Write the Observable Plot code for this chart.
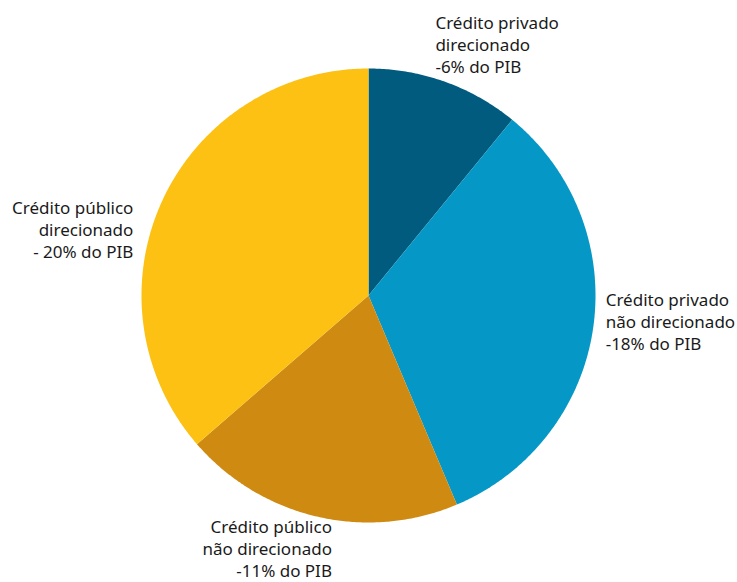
<!DOCTYPE html>
<html>
<head>
<meta charset="utf-8">
<script src="https://cdn.jsdelivr.net/npm/d3@7"></script>
<script src="https://cdn.jsdelivr.net/npm/@observablehq/plot@0.6"></script>
<style>
  html, body { margin: 0; padding: 0; background: #fff; }
  #chart svg { display: block; }
</style>
</head>
<body>
<div id="chart"></div>
<script>
const categories = [
  "Crédito privado direcionado",
  "Crédito privado não direcionado",
  "Crédito público não direcionado",
  "Crédito público direcionado"
];
const values = [6, 18, 11, 20];
const labels = [
  "Crédito privado\ndirecionado\n-6% do PIB",
  "Crédito privado\nnão direcionado\n-18% do PIB",
  "Crédito público\nnão direcionado\n-11% do PIB",
  "Crédito público\ndirecionado\n- 20% do PIB"
];
const colors = ["#015b7f", "#0597c5", "#cf8a12", "#fcc112"];

const arcs = d3.pie().sort(null).value(d => d)(values);

// polygon outline of each slice in unit coordinates (angle clockwise from 12 o'clock)
const pts = [];
arcs.forEach((a, i) => {
  const cat = categories[i];
  pts.push({cat, x: 0, y: 0});
  const n = Math.max(2, Math.ceil((a.endAngle - a.startAngle) / (Math.PI / 360)));
  for (let k = 0; k <= n; k++) {
    const t = a.startAngle + (a.endAngle - a.startAngle) * k / n;
    pts.push({cat, x: Math.sin(t), y: Math.cos(t)});
  }
});

const mid = a => (a.startAngle + a.endAngle) / 2;
const labelStyle = [
  {textAnchor: "start", dx: -17, dy: -16},
  {textAnchor: "start", dx: -10, dy: -10},
  {textAnchor: "end", dx: 20, dy: 9},
  {textAnchor: "end", dx: -8, dy: 37}
];

const textMarks = arcs.map((a, i) => Plot.text([a], {
  x: d => 1.1 * Math.sin(mid(d)),
  y: d => 1.1 * Math.cos(mid(d)),
  text: () => labels[i],
  textAnchor: labelStyle[i].textAnchor,
  dx: labelStyle[i].dx,
  dy: labelStyle[i].dy,
  lineAnchor: "middle",
  lineHeight: 1.3,
  fontSize: 17,
  fill: "#1a1a1a"
}));

const chart = Plot.plot({
  width: 737,
  height: 582,
  margin: 0,
  style: {fontFamily: "'Noto Sans', sans-serif", background: "#fff"},
  x: {domain: [-1, 1], range: [141, 595], axis: null},
  y: {domain: [-1, 1], range: [522, 68], axis: null},
  color: {domain: categories, range: colors},
  marks: [
    Plot.line(pts, {x: "x", y: "y", z: "cat", fill: "cat", stroke: null, curve: "linear"}),
    ...textMarks
  ]
});
document.getElementById("chart").appendChild(chart);
</script>
</body>
</html>
